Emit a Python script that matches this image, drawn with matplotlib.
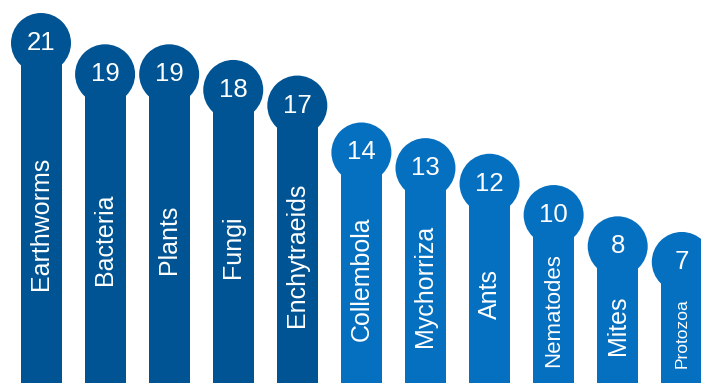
import matplotlib
matplotlib.use("Agg")
import matplotlib.pyplot as plt

categories = ["Earthworms", "Bacteria", "Plants", "Fungi", "Enchytraeids",
              "Collembola", "Mychorriza", "Ants", "Nematodes", "Mites", "Protozoa"]
values = [21, 19, 19, 18, 17, 14, 13, 12, 10, 8, 7]
groups = ["dark"] * 5 + ["light"] * 6

# style
group_colors = {"dark": "#005493", "light": "#0670C0"}
label_sizes = [18, 18, 18, 18, 18, 18, 18, 18, 16, 18, 12.5]
base = -2.1

plt.rcParams["font.family"] = ["Liberation Sans", "DejaVu Sans"]

fig = plt.figure(figsize=(7.01, 3.83), dpi=100)
ax = fig.add_axes([0, 0, 1, 1])
ax.set_xlim(-0.64, 10.30)
ax.set_ylim(-0.74, 23.75)
ax.axis("off")

x = list(range(len(categories)))
colors = [group_colors[g] for g in groups]

ax.bar(x, [v - base for v in values], bottom=base, width=0.64,
       color=colors, zorder=2, clip_on=True)
ax.scatter(x, values, s=1866, c=colors, marker="o", linewidths=0,
           zorder=3, clip_on=False)

for xi, v, name, fs in zip(x, values, categories, label_sizes):
    ax.text(xi, v, str(v), color="white", fontsize=18.5,
            ha="center", va="center", zorder=4)
    ax.text(xi, (v + base) / 2, name, color="white", fontsize=fs,
            rotation=90, ha="center", va="center", zorder=4)

fig.savefig("out.png", dpi=100)
